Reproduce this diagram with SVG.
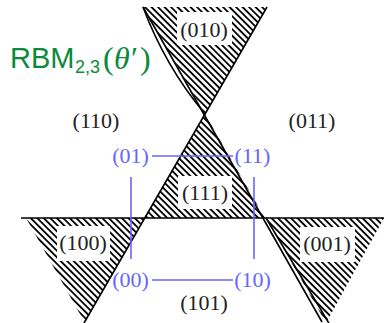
<svg xmlns="http://www.w3.org/2000/svg" width="384" height="323" viewBox="0 0 384 323">
<defs>
<pattern id="hatch" patternUnits="userSpaceOnUse" width="4.6" height="4.6" patternTransform="rotate(-45)">
<rect x="0" y="0" width="1.8" height="4.6" fill="#000"/>
</pattern>
</defs>
<style>
.h{fill:url(#hatch);stroke:none}
.ln{stroke:#000;stroke-width:1.6;fill:none}
.bx{fill:#fff;stroke:none}
.lb{font-family:"Liberation Serif",serif;font-size:22px;fill:#222;text-anchor:middle}
.bl{font-family:"Liberation Serif",serif;font-size:22px;fill:#6666ff;text-anchor:middle}
.bline{stroke:#6666ff;stroke-width:1.6;fill:none}
</style>
<rect width="384" height="323" fill="#fff"/>
<g id="regions">
<g id="r010"><polygon class="h" points="143,7 267,7 205,114"/><rect class="bx" x="177" y="12" width="55" height="33"/><text class="lb" x="204" y="37">(010)</text></g>
<g id="r111"><polygon class="h" points="205,114 144,218 265,218"/><rect class="bx" x="178" y="176" width="54" height="33"/><text class="lb" x="205" y="200">(111)</text></g>
<g id="r100"><polygon class="h" points="26,218 144,218 85,323"/><rect class="bx" x="57" y="226" width="53" height="35"/><text class="lb" x="83" y="250">(100)</text></g>
<g id="r001"><polygon class="h" points="266,218 384,218 326,323"/><rect class="bx" x="300" y="227" width="55" height="35"/><text class="lb" x="327" y="251">(001)</text></g>
<g id="r110"><text class="lb" x="96" y="128">(110)</text></g>
<g id="r011"><text class="lb" x="312" y="128">(011)</text></g>
<g id="r101"><text class="lb" x="204" y="310">(101)</text></g>
</g>
<g id="lines">
<line class="ln" x1="21" y1="218" x2="384" y2="218"/>
<line class="ln" x1="143" y1="7" x2="322" y2="322"/>
<line class="ln" x1="267" y1="7" x2="84" y2="323"/>
<path class="ln" d="M143,7 Q165,66 205,114"/>
<line class="ln" x1="266" y1="218" x2="330" y2="325"/>
</g>
<g id="square">
<line class="bline" x1="152" y1="156" x2="233" y2="156"/>
<line class="bline" x1="152" y1="280" x2="233" y2="280"/>
<line class="bline" x1="131" y1="177" x2="131" y2="259"/>
<line class="bline" x1="254" y1="177" x2="254" y2="259"/>
<g id="v01"><text class="bl" x="130.5" y="163">(01)</text></g>
<g id="v11"><text class="bl" x="252.5" y="163">(11)</text></g>
<g id="v00"><text class="bl" x="130.5" y="287">(00)</text></g>
<g id="v10"><text class="bl" x="252.5" y="287">(10)</text></g>
</g>
<g id="title" fill="#0b8a3c">
<text font-family="Liberation Sans, sans-serif" font-size="29" x="10" y="68">RBM</text>
<text font-family="Liberation Sans, sans-serif" font-size="18" x="75" y="73">2,3</text>
<text font-family="Liberation Serif, serif" font-size="32" y="69"><tspan x="103">(</tspan><tspan x="114" font-style="italic">θ</tspan><tspan x="131">′</tspan><tspan x="140">)</tspan></text>
</g>
</svg>
